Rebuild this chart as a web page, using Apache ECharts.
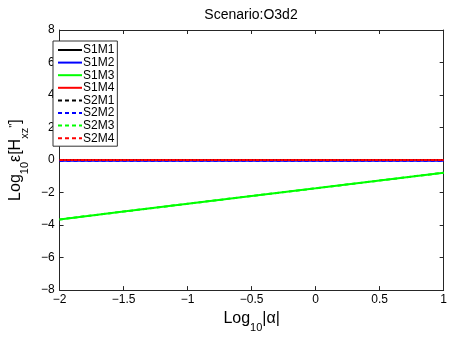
<!DOCTYPE html>
<html>
<head>
<meta charset="UTF-8"/>
<script src="https://cdn.jsdelivr.net/npm/echarts@6/dist/echarts.min.js"></script>
<style>
  html, body { margin: 0; padding: 0; background: #fff; }
  #c { width: 450px; height: 338px; }
</style>
</head>
<body>
<div id="c"></div>
<script>
// data
const xs = [-2, -1.5, -1, -0.5, 0, 0.5, 1];
const seriesNames = ["S1M1", "S1M2", "S1M3", "S1M4", "S2M1", "S2M2", "S2M3", "S2M4"];
const s1m1 = [0, 0, 0, 0, 0, 0, 0];
const s1m2 = [-0.04, -0.04, -0.04, -0.04, -0.04, -0.04, -0.04];
const s1m3 = [-3.65, -3.17, -2.69, -2.21, -1.74, -1.26, -0.78];
const s1m4 = [0, 0, 0, 0, 0, 0, 0];
const s2m1 = [0, 0, 0, 0, 0, 0, 0];
const s2m2 = [-0.04, -0.04, -0.04, -0.04, -0.04, -0.04, -0.04];
const s2m3 = [-3.65, -3.17, -2.69, -2.21, -1.74, -1.26, -0.78];
const s2m4 = [0, 0, 0, 0, 0, 0, 0];
const values = [s1m1, s1m2, s1m3, s1m4, s2m1, s2m2, s2m3, s2m4];
const colors = ["#000000", "#0000ff", "#00ff00", "#ff0000"];

const FONT = "Liberation Sans";
const axisCol = "#262626";

const series = seriesNames.map((name, i) => ({
  name,
  type: "line",
  symbol: "none",
  silent: true,
  data: xs.map((x, k) => [x, values[i][k]]),
  lineStyle: {
    color: colors[i % 4],
    width: 2,
    type: i < 4 ? "solid" : [4, 3]
  },
  itemStyle: { color: colors[i % 4] }
}));

const chart = echarts.init(document.getElementById("c"), null, { renderer: "canvas" });
chart.setOption({
  animation: false,
  textStyle: { fontFamily: FONT },
  title: {
    text: "Scenario:O3d2",
    left: 246, top: 3, textAlign: "center",
    textStyle: { fontFamily: FONT, fontSize: 14, fontWeight: "normal", color: "#000" }
  },
  grid: { left: 48, right: 6, top: 30, bottom: 42 },
  legend: {
    orient: "vertical",
    left: 53, top: 41,
    itemWidth: 24, itemHeight: 8, itemGap: 0.6,
    padding: [3, 3, 2, 4],
    backgroundColor: "#fff",
    borderColor: "#333", borderWidth: 1,
    itemStyle: { opacity: 0 },
    textStyle: { fontFamily: FONT, fontSize: 12, lineHeight: 12, color: "#000", padding: [0, 0, 0, -4] },
    data: seriesNames
  },
  xAxis: [{
    type: "value", min: -2, max: 1, interval: 0.5,
    position: "bottom",
    axisLine: { onZero: false, lineStyle: { color: axisCol } },
    axisTick: { inside: true, length: 4, lineStyle: { color: axisCol } },
    splitLine: { show: false },
    axisLabel: { fontFamily: FONT, fontSize: 12, color: "#000", margin: 4,
      formatter: v => (v < 0 ? "\u2212" + Math.abs(v) : String(v)) },
    name: "{a|Log}{s|10}{a||\u03b1|}",
    nameLocation: "middle", nameGap: 19,
    nameTextStyle: {
      rich: {
        a: { fontFamily: FONT, fontSize: 16, color: "#000", verticalAlign: "top", lineHeight: 22 },
        s: { fontFamily: FONT, fontSize: 11, color: "#000", verticalAlign: "bottom", lineHeight: 22, padding: [8, 0, 0, 0] }
      }
    }
  }, {
    type: "value", min: -2, max: 1, interval: 0.5,
    position: "top",
    axisLine: { onZero: false, lineStyle: { color: axisCol } },
    axisTick: { inside: true, length: 4, lineStyle: { color: axisCol } },
    axisLabel: { show: false },
    splitLine: { show: false }
  }],
  yAxis: [{
    type: "value", min: -8, max: 8, interval: 2,
    position: "left",
    axisLine: { show: true, onZero: false, lineStyle: { color: axisCol } },
    axisTick: { show: true, inside: true, length: 4, lineStyle: { color: axisCol } },
    splitLine: { show: false },
    axisLabel: { fontFamily: FONT, fontSize: 12, color: "#000", margin: 5,
      formatter: v => (v < 0 ? "\u2212" + Math.abs(v) : String(v)) },
    name: "{a|Log}{s|10}{a|\u03b5[H}{s|xz}{p|''}{a|]}",
    nameLocation: "middle", nameGap: 22, nameRotate: 90,
    nameTextStyle: {
      rich: {
        a: { fontFamily: FONT, fontSize: 16, color: "#000", verticalAlign: "top", lineHeight: 22 },
        s: { fontFamily: FONT, fontSize: 11, color: "#000", verticalAlign: "bottom", lineHeight: 22, padding: [8, 0, 0, 0] },
        p: { fontFamily: FONT, fontSize: 11, color: "#000", verticalAlign: "top", lineHeight: 22, padding: [0, 0, 8, 0] }
      }
    }
  }, {
    type: "value", min: -8, max: 8, interval: 2,
    position: "right",
    axisLine: { show: true, onZero: false, lineStyle: { color: axisCol } },
    axisTick: { show: true, inside: true, length: 4, lineStyle: { color: axisCol } },
    axisLabel: { show: false },
    splitLine: { show: false }
  }],
  series
});
</script>
</body>
</html>
